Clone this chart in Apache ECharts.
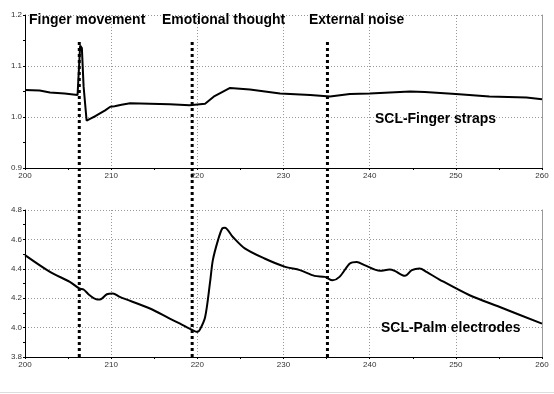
<!DOCTYPE html>
<html><head><meta charset="utf-8">
<script src="https://cdn.jsdelivr.net/npm/echarts@6/dist/echarts.min.js"></script>
<style>html,body{margin:0;padding:0;background:#fff}#c{width:554px;height:394px}</style>
</head><body><div id="c"></div>
<script>
// ---- data ----
const xTicks = [200, 210, 220, 230, 240, 250, 260];
const topTicks = [0.9, 1.0, 1.1, 1.2];
const bottomTicks = [3.8, 4.0, 4.2, 4.4, 4.6, 4.8];

const fingerX = [200, 201.7, 202.9, 204.6, 206.1, 206.2, 206.4, 206.6, 206.8, 207.15, 207.6, 208.2, 208.7, 209.3, 209.9, 210.4, 211.2, 212.2, 214.5, 216.8, 219.1, 220.3, 220.9, 222.0, 223.8, 226.1, 229.6, 233.1, 235.4, 237.7, 240.0, 244.7, 246.4, 250.0, 253.9, 258.2, 260];
const fingerY = [1.053, 1.052, 1.048, 1.046, 1.043, 1.045, 1.140, 1.135, 1.060, 0.993, 0.997, 1.002, 1.007, 1.013, 1.020, 1.021, 1.024, 1.027, 1.026, 1.025, 1.023, 1.025, 1.026, 1.041, 1.057, 1.054, 1.046, 1.043, 1.040, 1.045, 1.046, 1.050, 1.049, 1.045, 1.040, 1.038, 1.035];

const palmX = [200, 202.9, 205.2, 206.3, 206.8, 207.5, 208.4, 208.8, 209.5, 210.2, 211.0, 214.5, 216.8, 218.0, 219.1, 220.0, 220.3, 220.9, 221.5, 221.8, 222.4, 222.9, 223.2, 224.1, 225.5, 227.8, 230.2, 231.9, 233.6, 234.8, 235.7, 236.5, 237.7, 238.5, 239.4, 241.2, 242.3, 242.9, 244.1, 244.9, 245.8, 246.6, 248.1, 251.6, 255.1, 260];
const palmY = [4.493, 4.379, 4.311, 4.266, 4.259, 4.220, 4.191, 4.193, 4.227, 4.232, 4.209, 4.130, 4.061, 4.027, 3.993, 3.970, 3.986, 4.070, 4.320, 4.459, 4.595, 4.675, 4.679, 4.618, 4.539, 4.470, 4.413, 4.391, 4.352, 4.345, 4.322, 4.345, 4.436, 4.447, 4.425, 4.386, 4.395, 4.386, 4.352, 4.391, 4.402, 4.379, 4.327, 4.220, 4.140, 4.027];

const eventX = [206.3, 219.4, 235.1];
const eventLabels = ['Finger movement', 'Emotional thought', 'External noise'];
const seriesLabels = ['SCL-Finger straps', 'SCL-Palm electrodes'];

// ---- chart ----
const zip = (a, b) => a.map((v, i) => [v, b[i]]);
const labelFont = {fontFamily: 'Liberation Sans', fontSize: 8, color: '#333'};
const split = {show: true, lineStyle: {type: [1, 2], color: '#999', width: 1}};

function xAxis(gridIndex) {
  return {type: 'value', gridIndex, min: 200, max: 260, interval: 10,
    axisLine: {show: true, onZero: false, lineStyle: {color: '#000', width: 1}},
    axisTick: {show: true, length: 2, lineStyle: {color: '#000'}},
    minorTick: {show: true, splitNumber: 2, length: 2, lineStyle: {color: '#000'}},
    axisLabel: Object.assign({margin: 4, formatter: v => xTicks.includes(v) ? String(v) : ''}, labelFont),
    splitLine: split};
}
function yAxis(gridIndex, min, max, interval) {
  return {type: 'value', gridIndex, min, max, interval,
    axisLine: {show: true, lineStyle: {color: '#000', width: 1}},
    axisTick: {show: true, length: 2, lineStyle: {color: '#000'}},
    minorTick: {show: true, splitNumber: 2, length: 2, lineStyle: {color: '#000'}},
    axisLabel: Object.assign({margin: 3, formatter: v => v.toFixed(1)}, labelFont),
    splitLine: split};
}
function rightAxis(gridIndex, min, max) {
  return {type: 'value', gridIndex, min, max, position: 'right',
    axisLine: {show: true, lineStyle: {color: '#999', width: 1}},
    axisTick: {show: false}, axisLabel: {show: false}, splitLine: {show: false}};
}

const chart = echarts.init(document.getElementById('c'), null, {renderer: 'canvas'});
const titleText = (text, x, y) => ({type: 'text', x, y, scaleX: 0.93, z: 100,
  style: {text, font: 'bold 15px "Liberation Sans", Arial, sans-serif', fill: '#000', textVerticalAlign: 'middle'}});

chart.setOption({
  animation: false,
  backgroundColor: '#fff',
  grid: [
    {left: 25, top: 15, width: 517, height: 153},
    {left: 25, top: 210, width: 517, height: 147},
    {left: 25, top: 40, width: 517, height: 317}
  ],
  xAxis: [xAxis(0), xAxis(1),
    {type: 'value', gridIndex: 2, min: 200, max: 260, show: false}],
  yAxis: [yAxis(0, 0.9, 1.2, 0.1), yAxis(1, 3.8, 4.8, 0.2),
    {type: 'value', gridIndex: 2, min: 0, max: 1, show: false},
    rightAxis(0, 0.9, 1.2), rightAxis(1, 3.8, 4.8)],
  series: [
    {type: 'line', xAxisIndex: 0, yAxisIndex: 0, data: zip(fingerX, fingerY), showSymbol: false,
      lineStyle: {color: '#000', width: 2}, z: 5},
    {type: 'line', xAxisIndex: 1, yAxisIndex: 1, data: zip(palmX, palmY), showSymbol: false, smooth: 0.3,
      lineStyle: {color: '#000', width: 2}, z: 5}
  ].concat(eventX.map(x => ({type: 'line', xAxisIndex: 2, yAxisIndex: 2, data: [[x, 0], [x, 1]],
      showSymbol: false, lineStyle: {color: '#000', width: 3, type: [3, 3]}, z: 6}))),
  graphic: [
    titleText(eventLabels[0], 29, 20),
    titleText(eventLabels[1], 162, 20),
    titleText(eventLabels[2], 309, 20),
    titleText(seriesLabels[0], 375, 119),
    titleText(seriesLabels[1], 381, 328),
    {type: 'line', shape: {x1: 0, y1: 392.5, x2: 554, y2: 392.5}, style: {stroke: '#ddd', lineWidth: 1}}
  ]
});
</script></body></html>
